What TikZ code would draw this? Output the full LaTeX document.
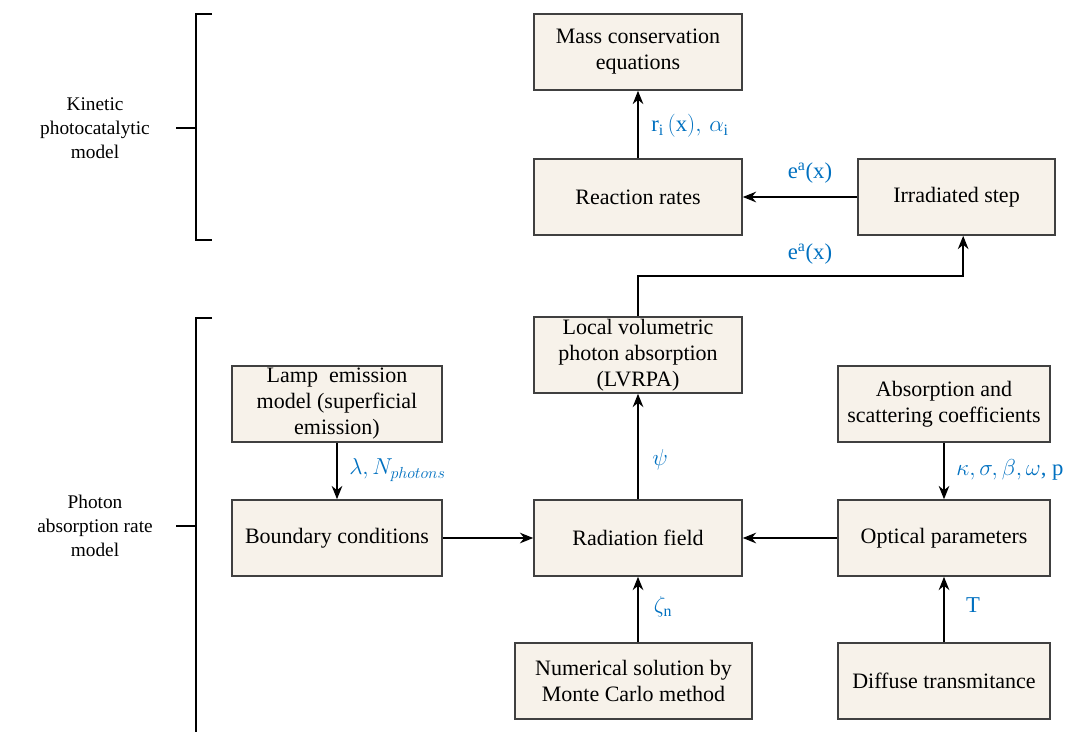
\documentclass[tikz,border=0pt]{standalone}
\usepackage{fontspec}
\setmainfont{Liberation Serif}
\usetikzlibrary{arrows.meta}
\definecolor{boxfill}{RGB}{247,242,234}
\definecolor{boxline}{RGB}{64,64,64}
\definecolor{lblue}{RGB}{0,112,192}
\begin{document}
\begin{tikzpicture}[x=0.75pt,y=-0.75pt,
  box/.style={draw=boxline,fill=boxfill,line width=1.2pt,minimum width=156pt,minimum height=57pt,
    align=center,inner sep=0pt,font=\fontsize{16.5}{19.5}\selectfont},
  arr/.style={line width=1.1pt,-{Stealth[length=10pt,width=8pt]}},
  lbl/.style={text=lblue,font=\fontsize{17}{20}\selectfont,inner sep=0pt},
  brk/.style={line width=1.8pt},
  side/.style={align=center,font=\fontsize{14.5}{18}\selectfont}]
\useasboundingbox (0,0) rectangle (1066,732);
% boxes
\node[box] (mass) at (638,52) {Mass conservation\\equations};
\node[box] (rates) at (638,197) {Reaction rates};
\node[box,minimum width=148pt] (irr) at (956.5,197) {Irradiated step};
\node[box] (lvrpa) at (638,355) {Local volumetric\\photon absorption\\(LVRPA)};
\node[box,minimum width=157.5pt] (lamp) at (337,404) {Lamp\ \ emission\\model (superficial\\emission)};
\node[box,minimum width=157.5pt] (bound) at (337,538) {Boundary conditions};
\node[box] (rad) at (638,538) {Radiation field};
\node[box,minimum width=159pt] (abs) at (944,404) {Absorption and\\scattering coefficients};
\node[box,minimum width=159pt] (opt) at (944,538) {Optical parameters};
\node[box,minimum width=178pt] (num) at (633.5,681) {Numerical solution by\\Monte Carlo method};
\node[box,minimum width=159pt] (diff) at (944,681) {Diffuse transmitance};
% connectors
\draw[arr] (rates) -- (mass);
\draw[arr] (irr) -- (rates);
\draw[arr] (lvrpa.north) -- (638,276) -| ([xshift=5pt]irr.south);
\draw[arr] (lamp) -- (bound);
\draw[arr] (bound) -- (rad);
\draw[arr] (rad) -- (lvrpa);
\draw[arr] (abs) -- (opt);
\draw[arr] (opt) -- (rad);
\draw[arr] (rad.south |- num.north) -- (rad.south);
\draw[arr] (diff) -- (opt);
% labels
\node[lbl] (l1) at (690,126) {$\mathrm{r_i\,(x)},\,\alpha_{\mathrm{i}}$};
\node[lbl] (l2) at (810,173) {e\textsuperscript{a}(x)};
\node[lbl] (l3) at (810,254) {e\textsuperscript{a}(x)};
\node[lbl,anchor=west] (l4) at (349,470) {$\lambda, N_{photons}$};
\node[lbl] (l5) at (660,460) {$\psi$};
\node[lbl,anchor=west] (l6) at (956,470) {$\kappa,\sigma,\beta,\omega$, p};
\node[lbl] (l7) at (663,607) {$\zeta_{\mathrm{n}}$};
\node[lbl] (l8) at (973,605) {T};
% brackets
\draw[brk] (212,14) -- (196,14) -- (196,240) -- (212,240);
\draw[brk] (176,128) -- (196,128);
\draw[brk] (212,318) -- (196,318) -- (196,732);
\draw[brk] (176,526) -- (196,526);
\node[side] (k) at (95,128) {Kinetic\\photocatalytic\\model};
\node[side] (p) at (95,526) {Photon\\absorption rate\\model};
\end{tikzpicture}
\end{document}
